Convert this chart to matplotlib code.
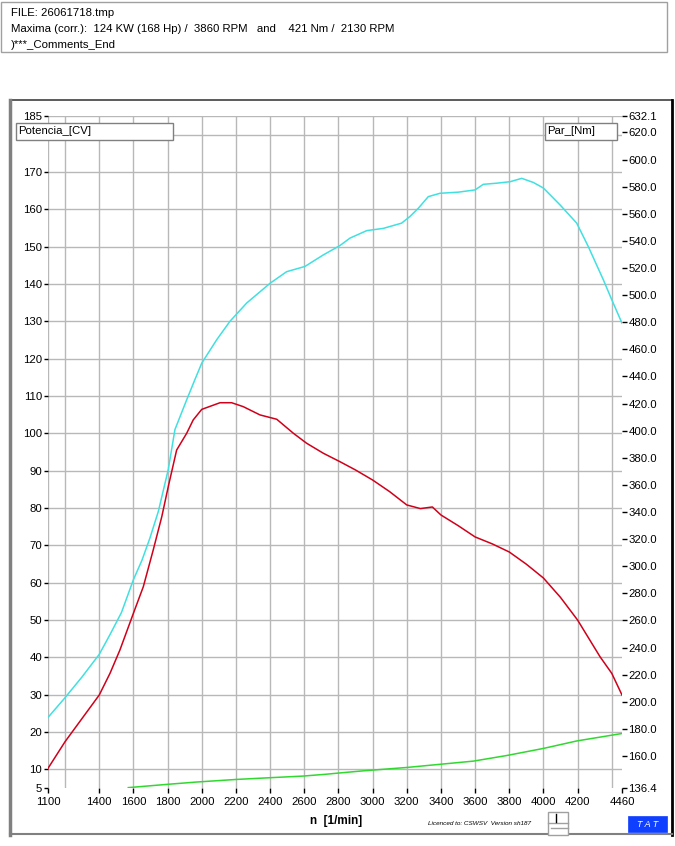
import matplotlib
matplotlib.use("Agg")
import matplotlib.pyplot as plt
from matplotlib.patches import Rectangle
from matplotlib.lines import Line2D

plt.rcParams['font.family'] = ['Liberation Sans', 'DejaVu Sans']

# ---------------- data ----------------
power_rpm = [1100, 1200, 1300, 1400, 1463, 1530, 1600, 1650, 1697, 1746, 1804, 1843, 1912,
             1960, 2000, 2088, 2165, 2263, 2400, 2497, 2604, 2712, 2809, 2868, 2966, 3063,
             3170, 3219, 3268, 3326, 3395, 3502, 3600, 3648, 3726, 3805, 3873, 3941, 4000,
             4097, 4195, 4263, 4351, 4400, 4460]
power_cv = [23.9, 29.2, 34.8, 40.8, 46.1, 52.0, 60.8, 66.0, 72.0, 79.1, 90.3, 101.0, 109.0,
            114.4, 118.8, 125.1, 130.0, 134.9, 140.2, 143.3, 144.7, 147.8, 150.3, 152.3, 154.3, 154.9,
            156.3, 158.1, 160.3, 163.4, 164.3, 164.6, 165.2, 166.7, 167.0, 167.4, 168.3, 167.2, 165.7,
            161.2, 156.3, 150.0, 141.1, 135.8, 129.5]

torque_rpm = [1100, 1200, 1307, 1400, 1463, 1521, 1600, 1658, 1716, 1766, 1804, 1853, 1912,
              1950, 2000, 2107, 2175, 2243, 2341, 2439, 2536, 2614, 2712, 2809, 2900, 3000,
              3100, 3200, 3280, 3350, 3400, 3500, 3600, 3700, 3800, 3900, 4000, 4100, 4200,
              4331, 4400, 4460]
torque_nm = [150.9, 170.6, 189.0, 205.0, 221.0, 238.2, 265.3, 284.9, 312.0, 336.5, 358.7, 385.7, 398.1,
             407.9, 415.7, 420.6, 420.6, 417.7, 411.6, 408.4, 398.1, 390.7, 383.3, 377.1, 371.0, 363.6,
             355.0, 345.2, 342.5, 343.7, 337.8, 330.0, 321.6, 316.5, 310.5, 301.5, 291.3, 277.0, 260.3,
             233.3, 221.0, 205.0]

loss_rpm = [1570, 1804, 1970, 2205, 2419, 2595, 2731, 2800, 2946, 3200, 3590, 3785, 4000, 4195, 4460]
loss_cv = [5.1, 6.0, 6.6, 7.3, 7.8, 8.2, 8.7, 9.0, 9.6, 10.5, 12.2, 13.7, 15.6, 17.6, 19.6]

x_ticks = [1100, 1400, 1600, 1800, 2000, 2200, 2400, 2600, 2800, 3000, 3200, 3400, 3600,
           3800, 4000, 4200, 4460]
x_grid = [1100, 1200, 1400, 1600, 1800, 2000, 2200, 2400, 2600, 2800, 3000, 3200, 3400,
          3600, 3800, 4000, 4200, 4400]
left_ticks = [5, 10, 20, 30, 40, 50, 60, 70, 80, 90, 100, 110, 120, 130, 140, 150, 160, 170, 185]
h_grid = [10, 20, 30, 40, 50, 60, 70, 80, 90, 100, 110, 120, 130, 140, 150, 160, 170, 180, 185]
right_ticks = [136.4, 160, 180, 200, 220, 240, 260, 280, 300, 320, 340, 360, 380, 400, 420,
               440, 460, 480, 500, 520, 540, 560, 580, 600, 620, 632.1]

header_lines = ["FILE: 26061718.tmp",
                "Maxima (corr.):  124 KW (168 Hp) /  3860 RPM   and    421 Nm /  2130 RPM",
                ")***_Comments_End"]

# ---------------- figure ----------------
W, H = 675, 846
fig = plt.figure(figsize=(W / 100, H / 100), dpi=100)
fig.patch.set_facecolor('white')


def fx(x):
    return x / W


def fy(y):
    return 1 - y / H


def rect(x0, y0, x1, y1, fc='white', ec='#808080', lw=1.0, z=5):
    r = Rectangle((fx(x0), fy(y1)), fx(x1) - fx(x0), fy(y0) - fy(y1), transform=fig.transFigure,
                  facecolor=fc, edgecolor=ec, linewidth=lw, zorder=z)
    fig.add_artist(r)


def line(x0, y0, x1, y1, c='black', lw=1.0, z=5):
    fig.add_artist(Line2D([fx(x0), fx(x1)], [fy(y0), fy(y1)], transform=fig.transFigure,
                          color=c, linewidth=lw, zorder=z))


# header box
rect(1, 2, 667, 52, fc='white', ec='#a0a0a0', lw=1.0)
for i, t in enumerate(header_lines):
    fig.text(fx(11), fy(13 + 16 * i), t, fontsize=8.2, va='center', ha='left', zorder=6)

# main frame
line(10, 100, 672, 100, c='#404040', lw=1.2)
line(10, 100, 10, 835, c='#808080', lw=2.5)
line(672, 100, 672, 835, c='black', lw=2.0)
line(10, 834, 672, 834, c='#808080', lw=1.5)

# axes
ax = fig.add_axes([fx(48), fy(788), fx(622) - fx(48), fy(116) - fy(788)])
ax.set_facecolor('none')
for s in ax.spines.values():
    s.set_visible(False)
ax.set_xlim(1100, 4460)
ax.set_ylim(5, 185)

for xv in x_grid:
    ax.axvline(xv, color='#b8b8b8', lw=1.0, zorder=1)
for yv in h_grid:
    ax.axhline(yv, color='#b8b8b8', lw=1.0, zorder=1)

ax.plot(power_rpm, power_cv, color='#40e0e0', lw=1.1, zorder=3)
ax.plot(loss_rpm, loss_cv, color='#30d830', lw=1.1, zorder=3)

ax.set_xticks(x_ticks)
ax.set_xticklabels([str(v) for v in x_ticks])
ax.set_yticks(left_ticks)
ax.set_yticklabels([str(v) for v in left_ticks])
ax.tick_params(axis='y', direction='out', length=3.2, width=1, pad=1, labelsize=8.2, colors='black')
ax.tick_params(axis='x', direction='out', length=3.5, width=1, pad=3, labelsize=8.2, colors='black')

ax2 = ax.twinx()
for s in ax2.spines.values():
    s.set_visible(False)
ax2.set_ylim(136.4, 632.1)
ax2.plot(torque_rpm, torque_nm, color='#d0001a', lw=1.1, zorder=3)
ax2.set_yticks(right_ticks)
ax2.set_yticklabels(['%.1f' % v for v in right_ticks])
ax2.tick_params(axis='y', direction='out', length=3.8, width=1, pad=0.8, labelsize=8.2, colors='black')

# axis title & footer
fig.text(fx(336), fy(821), "n  [1/min]", fontsize=8.5, fontweight='bold', ha='center', va='center', zorder=6)
fig.text(fx(480), fy(823), "Licenced to: CSWSV  Version sh187", fontsize=4.6, style='italic',
         ha='center', va='center', zorder=6)

# small widget
rect(548, 812, 568, 835, fc='white', ec='#a0a0a0', lw=1.0)
line(548, 823, 568, 823, c='#a0a0a0', lw=1.0, z=6)
line(556, 814, 556, 822, c='black', lw=1.0, z=6)
line(551, 828, 568, 828, c='#a0a0a0', lw=1.0, z=6)

# TAT logo
rect(628, 816, 667, 832, fc='#1040ff', ec='#1040ff', lw=0.5)
fig.text(fx(647.5), fy(824), "T A T", fontsize=6.5, style='italic', color='white',
         ha='center', va='center', zorder=6)

# legend boxes
rect(16, 123, 173, 140, fc='white', ec='#808080', lw=1.0, z=7)
fig.text(fx(18), fy(131.5), "Potencia_[CV]", fontsize=8.2, ha='left', va='center', zorder=8)
rect(545, 123, 617, 140, fc='white', ec='#808080', lw=1.0, z=7)
fig.text(fx(547), fy(131.5), "Par_[Nm]", fontsize=8.2, ha='left', va='center', zorder=8)

fig.savefig('out.png', dpi=100, facecolor='white')
